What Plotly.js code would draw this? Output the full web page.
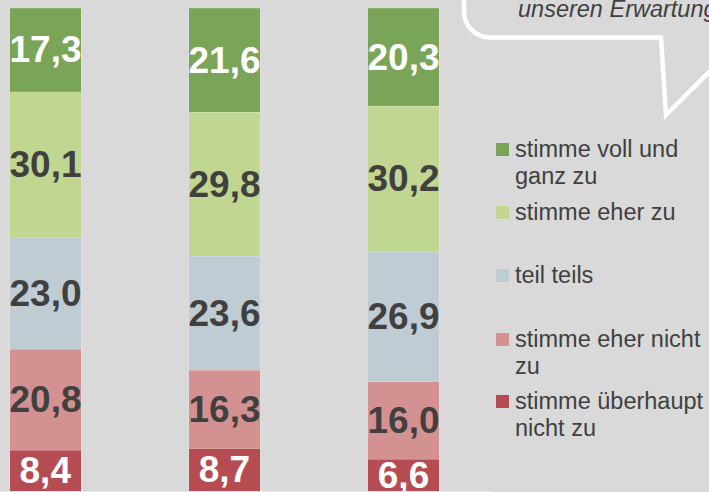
<!DOCTYPE html>
<html><head><meta charset="utf-8">
<script src="https://cdn.plot.ly/plotly-3.0.1.min.js"></script>
<style>html,body{margin:0;padding:0;background:#d9d9d9;overflow:hidden;} #chart{width:709px;height:492px;}</style>
</head><body><div id="chart"></div>
<script>
// ---- data ----
const categories = ["Gruppe 1", "Gruppe 2", "Gruppe 3"];
const seriesNames = ["stimme überhaupt nicht zu", "stimme eher nicht zu", "teil teils", "stimme eher zu", "stimme voll und ganz zu"];
const ueberhauptNicht = [8.4, 8.7, 6.6];
const eherNicht = [20.8, 16.3, 16.0];
const teilTeils = [23.0, 23.6, 26.9];
const eherZu = [30.1, 29.8, 30.2];
const vollUndGanz = [17.3, 21.6, 20.3];
const legendLabels = [["stimme voll und", "ganz zu"], ["stimme eher zu"], ["teil teils"], ["stimme eher nicht", "zu"], ["stimme überhaupt", "nicht zu"]];
const bubbleText = "unseren Erwartung";

// ---- styles ----
const colors = ["#b54c52", "#d49191", "#c0ccd4", "#c1d690", "#7aa458"];
const labelColors = ["#ffffff", "#404040", "#404040", "#404040", "#ffffff"];
const legendColors = ["#7aa458", "#c1d690", "#c0ccd4", "#d49191", "#b54c52"];
const textDark = "#404040";
const bg = "#d9d9d9";

const W = 709, H = 492, ML = 0, MR = 216, MT = 8, MB = 1;
const PW = W - ML - MR, PH = H - MT - MB;
const px = v => (v - ML) / PW;
const py = v => (H - MB - v) / PH;

const seriesValues = [ueberhauptNicht, eherNicht, teilTeils, eherZu, vollUndGanz];
const fmt = v => v.toFixed(1).replace('.', ',');

const traces = seriesValues.map((vals, i) => ({
  type: 'bar',
  name: seriesNames[i],
  x: categories,
  y: vals,
  width: 0.4,
  text: vals.map(fmt),
  textposition: 'inside',
  insidetextanchor: 'middle',
  textangle: 0,
  constraintext: 'none',
  insidetextfont: {family: 'Liberation Sans, Arial, sans-serif', size: 37, weight: 700, color: labelColors[i]},
  marker: {color: colors[i], line: {width: 0.6, color: 'rgba(255,255,255,0.25)'}},
  hoverinfo: 'skip',
  showlegend: false
}));

// legend drawn with shapes + annotations
const legendBaselines = [157, 220, 283, 347, 409];
const lineStep = 27.6;
const shapes = [];
const annotations = [];
legendLabels.forEach((lines, i) => {
  const b = legendBaselines[i];
  shapes.push({type: 'rect', xref: 'paper', yref: 'paper',
    x0: px(496), x1: px(509), y0: py(b - 1), y1: py(b - 14),
    fillcolor: legendColors[i], line: {width: 0}});
  lines.forEach((t, j) => {
    annotations.push({xref: 'paper', yref: 'paper', x: px(513), y: py(b + j * lineStep - 8.2),
      xanchor: 'left', yanchor: 'middle', showarrow: false, text: t, align: 'left',
      font: {family: 'Liberation Sans, Arial, sans-serif', size: 23.5, color: textDark}});
  });
});

// speech bubble
const r = 26, k = 0.5523;
const bx = 464, by = 37.5;
const pts = [
  ['M', [bx, -20]],
  ['L', [bx, by - r]],
  ['C', [bx, by - r + r * k], [bx + r - r * k, by], [bx + r, by]],
  ['L', [661, by]],
  ['L', [666, 115]],
  ['L', [666 + 78, 115 - 78]],
  ['L', [820, by]]
];
const path = pts.map(p => p[0] + p.slice(1).map(q => px(q[0]) + ',' + py(q[1])).join(' ')).join(' ');
shapes.push({type: 'path', xref: 'paper', yref: 'paper', path: path,
  line: {color: '#ffffff', width: 4.5}, fillcolor: 'rgba(0,0,0,0)'});
annotations.push({xref: 'paper', yref: 'paper', x: px(516), y: py(9.5), xanchor: 'left', yanchor: 'middle',
  showarrow: false, text: '<i>' + bubbleText + '</i>',
  font: {family: 'Liberation Sans, Arial, sans-serif', size: 23.5, color: textDark}});

const layout = {
  width: W, height: H,
  margin: {l: ML, r: MR, t: MT, b: MB, pad: 0},
  paper_bgcolor: bg, plot_bgcolor: bg,
  barmode: 'stack', barnorm: 'percent',
  showlegend: false,
  xaxis: {type: 'category', range: [-0.254, 2.5], showline: true, linecolor: '#e6e6e6', linewidth: 1,
    showticklabels: false, ticks: '', showgrid: false, zeroline: false, fixedrange: true},
  yaxis: {range: [0, 100], showticklabels: false, ticks: '', showgrid: false, zeroline: false, showline: false, fixedrange: true},
  shapes: shapes,
  annotations: annotations
};

Plotly.newPlot('chart', traces, layout, {displayModeBar: false, staticPlot: true});
</script>
</body></html>
